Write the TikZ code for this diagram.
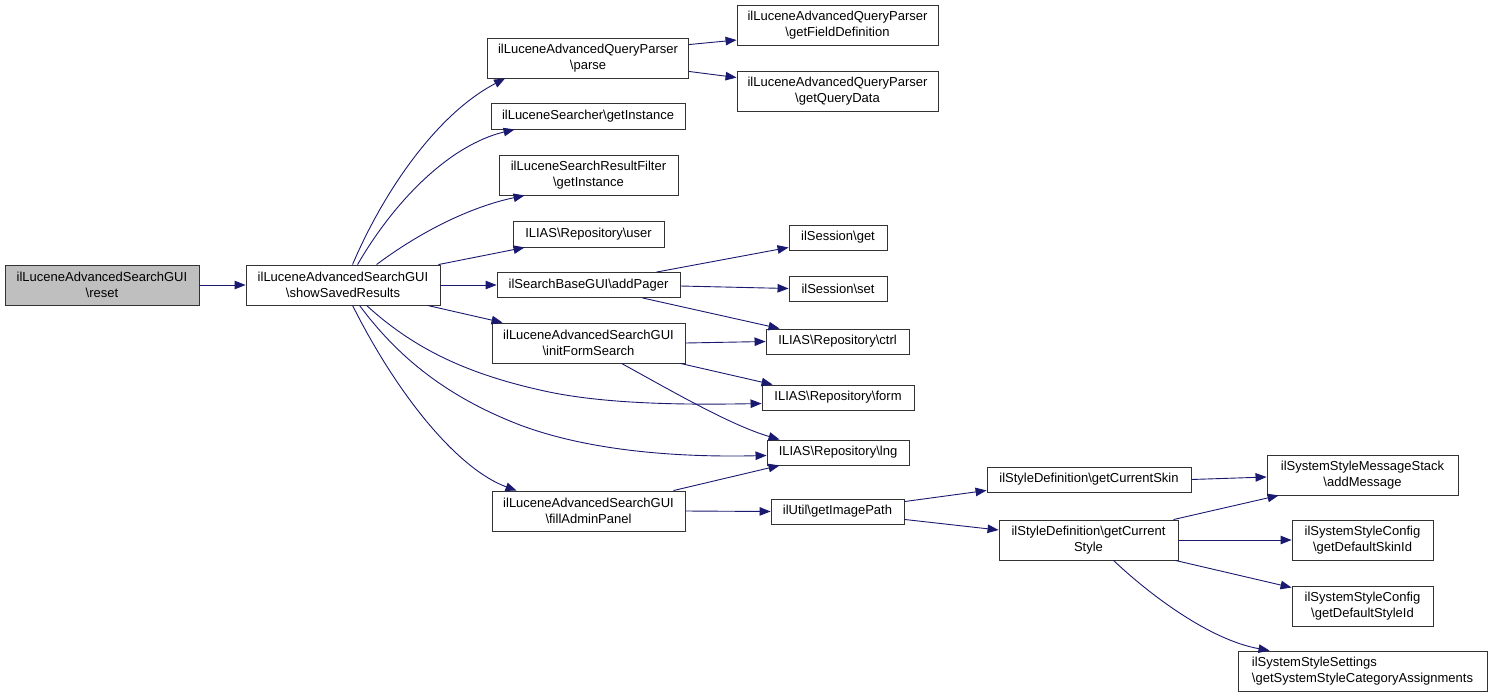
\documentclass[tikz,border=0pt]{standalone}
\usepackage{fontspec}
\setmainfont{Liberation Sans}
\usetikzlibrary{arrows.meta,calc}
\definecolor{edgeblue}{RGB}{25,25,112}
\newcommand{\BSL}{\textbackslash}
\begin{document}
\begin{tikzpicture}[x=1pt,y=-1pt,
  box/.style={draw=black!80, line width=0.9pt, fill=white, inner sep=0pt, align=center,
    font=\fontsize{13}{15.5}\selectfont},
  e/.style={draw=edgeblue, line width=0.9pt, -{Triangle[length=11pt,width=8.5pt]}}]
\useasboundingbox (0,0) rectangle (1492,697);
% nodes
\node[box, fill=black!25, minimum width=194, minimum height=40] (reset) at (102,285) {ilLuceneAdvancedSearchGUI\\\BSL reset};
\node[box, minimum width=194, minimum height=40] (ss) at (343,285) {ilLuceneAdvancedSearchGUI\\\BSL showSavedResults};
\node[box, minimum width=201, minimum height=40] (parse) at (588,58) {ilLuceneAdvancedQueryParser\\\BSL parse};
\node[box, minimum width=201, minimum height=40] (gfd) at (837.5,25) {ilLuceneAdvancedQueryParser\\\BSL getFieldDefinition};
\node[box, minimum width=201, minimum height=40] (gqd) at (837.5,91) {ilLuceneAdvancedQueryParser\\\BSL getQueryData};
\node[box, minimum width=194, minimum height=26] (lsgi) at (588,116) {ilLuceneSearcher\BSL getInstance};
\node[box, minimum width=179, minimum height=40] (srf) at (588.5,175) {ilLuceneSearchResultFilter\\\BSL getInstance};
\node[box, minimum width=151, minimum height=26] (user) at (588.5,234) {ILIAS\BSL Repository\BSL user};
\node[box, minimum width=183, minimum height=25] (pager) at (588.5,285) {ilSearchBaseGUI\BSL addPager};
\node[box, minimum width=98, minimum height=25] (sget) at (838,237.5) {ilSession\BSL get};
\node[box, minimum width=98, minimum height=25] (sset) at (838,288.5) {ilSession\BSL set};
\node[box, minimum width=193, minimum height=40] (ifs) at (588.5,343) {ilLuceneAdvancedSearchGUI\\\BSL initFormSearch};
\node[box, minimum width=143, minimum height=25] (ctrl) at (837.5,341.5) {ILIAS\BSL Repository\BSL ctrl};
\node[box, minimum width=152, minimum height=25] (form) at (838,397.5) {ILIAS\BSL Repository\BSL form};
\node[box, minimum width=142, minimum height=25] (lng) at (838,452.5) {ILIAS\BSL Repository\BSL lng};
\node[box, minimum width=193, minimum height=40] (fap) at (588.5,511) {ilLuceneAdvancedSearchGUI\\\BSL fillAdminPanel};
\node[box, minimum width=133, minimum height=25] (gip) at (837.5,511.5) {ilUtil\BSL getImagePath};
\node[box, minimum width=204, minimum height=25] (gcsk) at (1089,479.5) {ilStyleDefinition\BSL getCurrentSkin};
\node[box, minimum width=179, minimum height=40] (gcst) at (1088.5,540) {ilStyleDefinition\BSL getCurrent\\Style};
\node[box, minimum width=191, minimum height=40] (addm) at (1362.5,475) {ilSystemStyleMessageStack\\\BSL addMessage};
\node[box, minimum width=141, minimum height=40] (dsk) at (1362.5,540) {ilSystemStyleConfig\\\BSL getDefaultSkinId};
\node[box, minimum width=141, minimum height=40] (dst) at (1362.5,606) {ilSystemStyleConfig\\\BSL getDefaultStyleId};
\node[box, align=left, minimum width=249, minimum height=40] (cat) at (1362.5,671) {ilSystemStyleSettings\\\BSL getSystemStyleCategoryAssignments};
% edges
\draw[e] (reset.east) -- (ss.west);
\draw[e] ($(ss.north west)+(107,0)$) .. controls (382,195) and (435,115) .. ($(parse.south west)+(18,0)$);
\draw[e] ($(ss.north west)+(112,0)$) .. controls (395,200) and (450,145) .. ($(lsgi.south west)+(24,0)$);
\draw[e] ($(ss.north west)+(131,0)$) .. controls (420,232) and (470,207) .. ($(srf.south west)+(26,0)$);
\draw[e] ($(ss.north east)+(-2,0)$) -- ($(user.south west)+(12,0)$);
\draw[e] (ss.east) -- (pager.west);
\draw[e] ($(ss.south west)+(182,0)$) -- ($(ifs.north west)+(11,0)$);
\draw[e] ($(ss.south west)+(121,0)$) .. controls (410,345) and (460,372) .. (540,390) .. controls (600,404) and (680,405) .. ($(form.west)+(0,6)$);
\draw[e] ($(ss.south west)+(114,0)$) .. controls (400,360) and (450,398) .. (520,425) .. controls (600,455) and (700,457) .. ($(lng.west)+(0,3)$);
\draw[e] ($(ss.south west)+(107,0)$) .. controls (400,400) and (460,470) .. ($(fap.north west)+(25,0)$);
\draw[e] ($(parse.north east)+(0,7)$) -- ($(gfd.west)+(0,15)$);
\draw[e] ($(parse.south east)+(0,-7)$) -- ($(gqd.north west)+(0,7)$);
\draw[e] ($(pager.north west)+(160,0)$) -- ($(sget.south west)+(0,-3)$);
\draw[e] ($(pager.east)+(0,1)$) -- (sset.west);
\draw[e] ($(pager.south west)+(146,0)$) -- ($(ctrl.north west)+(14,0)$);
\draw[e] (ifs.east) -- (ctrl.west);
\draw[e] ($(ifs.south east)+(-5,0)$) -- ($(form.north west)+(11,0)$);
\draw[e] ($(ifs.south west)+(130,0)$) .. controls (670,390) and (730,425) .. ($(lng.north west)+(13,0)$);
\draw[e] ($(fap.north east)+(-12,0)$) -- ($(lng.south west)+(13,0)$);
\draw[e] (fap.east) -- (gip.west);
\draw[e] ($(gip.north east)+(0,3)$) -- ($(gcsk.south west)+(0,-2)$);
\draw[e] ($(gip.south east)+(0,-5)$) -- ($(gcst.west)+(0,-10)$);
\draw[e] (gcsk.east) -- ($(addm.west)+(0,2)$);
\draw[e] ($(gcst.north east)+(-5,0)$) -- ($(addm.south west)+(12,0)$);
\draw[e] (gcst.east) -- (dsk.west);
\draw[e] ($(gcst.south east)+(-3,0)$) -- ($(dst.north west)+(0,2)$);
\draw[e] ($(gcst.south west)+(115,0)$) .. controls (1150,595) and (1210,640) .. ($(cat.north west)+(32,0)$);
\end{tikzpicture}
\end{document}
